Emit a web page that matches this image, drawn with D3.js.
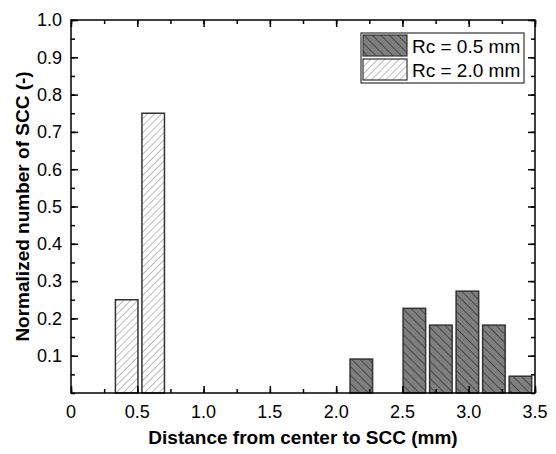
<!DOCTYPE html>
<html lang="en">
  <head>
    <meta charset="utf-8">
    <title></title>
    <style>
      body { margin: 0; background: #fff; }
      text { font-family: "Liberation Sans", Arial, sans-serif; }
    </style>
  </head>
  <body>
    <svg class="chart"></svg>

    <script src="https://cdnjs.cloudflare.com/ajax/libs/d3/7.8.5/d3.min.js"></script>
    <script type="text/javascript">
    // bar centres (mm) and normalized counts
    var rc20Centers = [0.42, 0.62];
    var rc20Values = [0.25, 0.75];
    var rc05Centers = [2.19, 2.59, 2.79, 2.99, 3.19, 3.39];
    var rc05Values = [0.091, 0.227, 0.182, 0.273, 0.182, 0.045];
    var barWidthMm = 0.17;

    var xTicks = [0, 0.5, 1.0, 1.5, 2.0, 2.5, 3.0, 3.5];
    var yTicks = [0.1, 0.2, 0.3, 0.4, 0.5, 0.6, 0.7, 0.8, 0.9, 1.0];
    var legendLabels = ["Rc = 0.5 mm", "Rc = 2.0 mm"];

    var margin = {top: 20, right: 21, bottom: 61, left: 71},
        width = 556 - margin.left - margin.right,
        height = 454 - margin.top - margin.bottom;

    var x = d3.scaleLinear().domain([0, 3.5]).range([0, width]);
    var y = d3.scaleLinear().domain([0, 1]).range([height, 0]);

    var svg = d3.select(".chart")
        .attr("width", 556)
        .attr("height", 454);

    var defs = svg.append("defs");
    defs.append("pattern")
        .attr("id", "darkHatch")
        .attr("patternUnits", "userSpaceOnUse")
        .attr("width", 6).attr("height", 6)
        .attr("patternTransform", "rotate(-45)")
      .call(function(p) {
        p.append("rect").attr("width", 6).attr("height", 6).attr("fill", "#7f7f7f");
        p.append("line").attr("x1", 0).attr("y1", 0).attr("x2", 0).attr("y2", 6)
          .attr("stroke", "#3a3a3a").attr("stroke-width", 1.6);
      });
    defs.append("pattern")
        .attr("id", "lightHatch")
        .attr("patternUnits", "userSpaceOnUse")
        .attr("width", 5).attr("height", 5)
        .attr("patternTransform", "rotate(45)")
      .call(function(p) {
        p.append("rect").attr("width", 5).attr("height", 5).attr("fill", "#fff");
        p.append("line").attr("x1", 0).attr("y1", 0).attr("x2", 0).attr("y2", 5)
          .attr("stroke", "#7a7a7a").attr("stroke-width", 1);
      });

    var chart = svg.append("g")
        .attr("transform", "translate(" + margin.left + "," + margin.top + ")");

    function drawBars(centers, values, fill) {
      chart.append("g").selectAll("rect")
          .data(values)
          .enter().append("rect")
            .attr("x", function(d, i) { return x(centers[i] - barWidthMm / 2); })
            .attr("y", function(d) { return y(d); })
            .attr("width", x(barWidthMm) - x(0))
            .attr("height", function(d) { return height - y(d); })
            .attr("fill", fill)
            .attr("stroke", "#333")
            .attr("stroke-width", 1.5);
    }
    drawBars(rc20Centers, rc20Values, "url(#lightHatch)");
    drawBars(rc05Centers, rc05Values, "url(#darkHatch)");

    // ticks: all inward, on every side
    var xMinor = d3.range(0, 3.51, 0.25);
    var yMinor = d3.range(0, 1.001, 0.05);

    function tickAxis(axisFn, scale, values, size, tr) {
      chart.append("g")
          .attr("class", "ticks")
          .attr("transform", tr)
          .call(axisFn(scale).tickValues(values).tickSize(size).tickFormat(""));
    }
    tickAxis(d3.axisBottom, x, xMinor, -4, "translate(0," + height + ")");
    tickAxis(d3.axisBottom, x, xTicks, -7, "translate(0," + height + ")");
    tickAxis(d3.axisTop, x, xMinor, -4, "translate(0,0)");
    tickAxis(d3.axisTop, x, xTicks, -7, "translate(0,0)");
    tickAxis(d3.axisLeft, y, yMinor, -4, "translate(0,0)");
    tickAxis(d3.axisLeft, y, yTicks, -7, "translate(0,0)");
    tickAxis(d3.axisRight, y, yMinor, -4, "translate(" + width + ",0)");
    tickAxis(d3.axisRight, y, yTicks, -7, "translate(" + width + ",0)");
    chart.selectAll(".ticks .domain").remove();
    chart.selectAll(".ticks line").attr("stroke", "#000").attr("stroke-width", 1.5);

    chart.append("rect")
        .attr("width", width).attr("height", height)
        .attr("fill", "none").attr("stroke", "#000").attr("stroke-width", 1.5);

    // tick labels
    chart.append("g").selectAll("text")
        .data(xTicks)
        .enter().append("text")
          .attr("x", function(d) { return x(d); })
          .attr("y", height + 25)
          .attr("text-anchor", "middle")
          .style("font-size", "18px")
          .text(function(d) { return d === 0 ? "0" : d3.format(".1f")(d); });

    chart.append("g").selectAll("text")
        .data(yTicks)
        .enter().append("text")
          .attr("x", -9)
          .attr("y", function(d) { return y(d); })
          .attr("dy", "0.35em")
          .attr("text-anchor", "end")
          .style("font-size", "18px")
          .text(function(d) { return d3.format(".1f")(d); });

    // axis titles
    chart.append("text")
        .attr("x", width / 2)
        .attr("y", height + 51)
        .attr("text-anchor", "middle")
        .style("font-size", "19px")
        .style("font-weight", "bold")
        .text("Distance from center to SCC (mm)");

    chart.append("text")
        .attr("transform", "translate(-42," + (height / 2) + ") rotate(-90)")
        .attr("text-anchor", "middle")
        .style("font-size", "19px")
        .style("font-weight", "bold")
        .text("Normalized number of SCC (-)");

    // legend
    var legend = chart.append("g").attr("transform", "translate(290,13)");
    legend.append("rect")
        .attr("width", 163).attr("height", 50)
        .attr("fill", "#fff").attr("stroke", "#333").attr("stroke-width", 1.2);
    var fills = ["url(#darkHatch)", "url(#lightHatch)"];
    legendLabels.forEach(function(lbl, i) {
      legend.append("rect")
          .attr("x", 2).attr("y", 2 + i * 24)
          .attr("width", 44).attr("height", 21)
          .attr("fill", fills[i])
          .attr("stroke", "#333").attr("stroke-width", 1.2);
      legend.append("text")
          .attr("x", 51).attr("y", 13 + i * 24)
          .attr("dy", "0.35em")
          .style("font-size", "19px")
          .text(lbl);
    });
    </script>
  </body>
</html>
